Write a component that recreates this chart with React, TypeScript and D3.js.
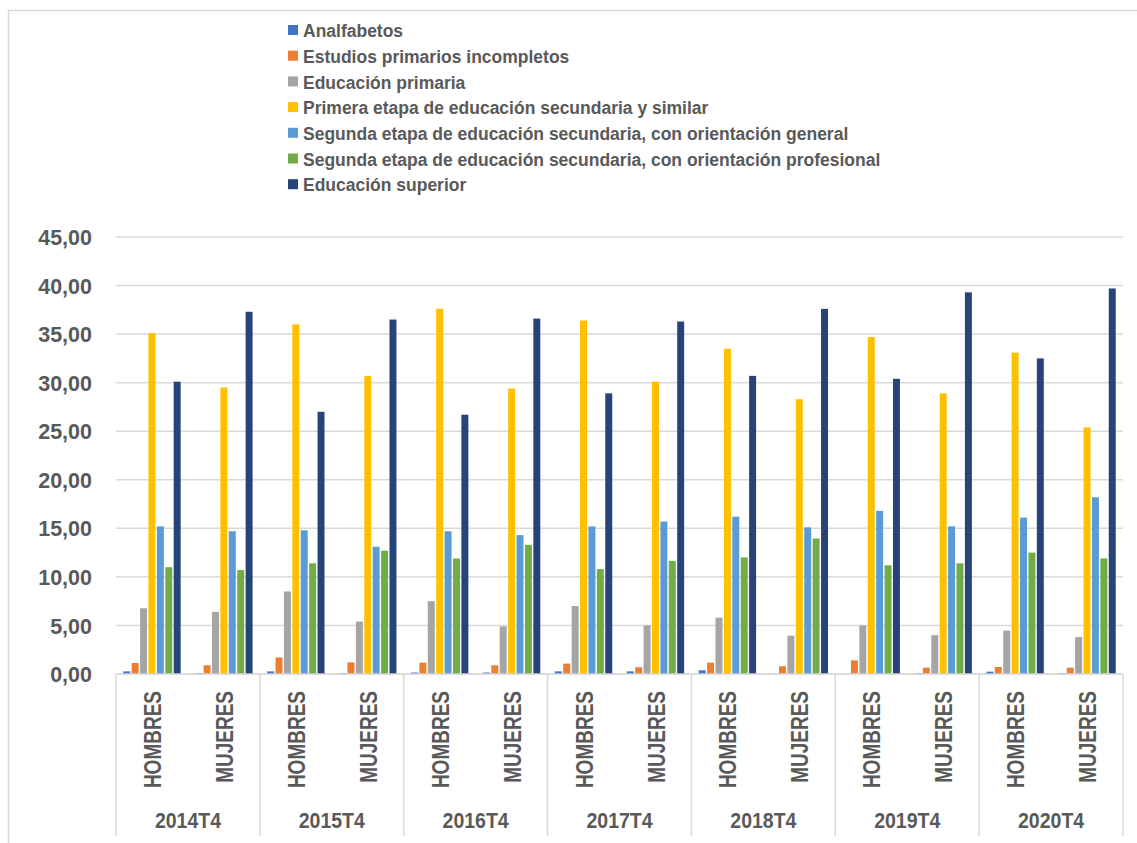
import * as d3 from 'd3';
import React, { useEffect, useRef } from 'react';

// years (outer category level) and sexes (inner level)
const years = ['2014T4', '2015T4', '2016T4', '2017T4', '2018T4', '2019T4', '2020T4'];
const sexes = ['HOMBRES', 'MUJERES'];

const seriesNames = [
  'Analfabetos',
  'Estudios primarios incompletos',
  'Educación primaria',
  'Primera etapa de educación secundaria y similar',
  'Segunda etapa de educación secundaria, con orientación general',
  'Segunda etapa de educación secundaria, con orientación profesional',
  'Educación superior',
];

// one value per category, order: 2014 H, 2014 M, 2015 H, 2015 M, ...
const analfabetos = [0.27, 0.1, 0.27, 0.1, 0.15, 0.15, 0.27, 0.27, 0.38, 0.02, 0.0, 0.1, 0.24, 0.1];
const primariosIncompletos = [1.13, 0.9, 1.7, 1.2, 1.17, 0.9, 1.07, 0.7, 1.17, 0.8, 1.4, 0.65, 0.72, 0.65];
const primaria = [6.77, 6.4, 8.5, 5.4, 7.5, 4.9, 7.0, 5.0, 5.8, 3.95, 5.0, 4.0, 4.47, 3.8];
const primeraEtapa = [35.1, 29.5, 36.0, 30.7, 37.6, 29.4, 36.4, 30.1, 33.5, 28.3, 34.7, 28.9, 33.1, 25.4];
const segundaGeneral = [15.2, 14.7, 14.8, 13.1, 14.7, 14.3, 15.2, 15.7, 16.2, 15.1, 16.8, 15.2, 16.1, 18.2];
const segundaProfesional = [11.0, 10.7, 11.4, 12.7, 11.9, 13.3, 10.8, 11.65, 12.0, 13.95, 11.2, 11.4, 12.5, 11.9];
const superior = [30.1, 37.3, 27.0, 36.5, 26.7, 36.6, 28.9, 36.3, 30.7, 37.6, 30.4, 39.3, 32.5, 39.7];

const seriesValues = [analfabetos, primariosIncompletos, primaria, primeraEtapa, segundaGeneral, segundaProfesional, superior];
const colors = ['#4472C4', '#ED7D31', '#A5A5A5', '#FFC000', '#5B9BD5', '#70AD47', '#264478'];
const yTicks = [0, 5, 10, 15, 20, 25, 30, 35, 40, 45];

const FONT = '"Liberation Sans", Arial, sans-serif';
const TEXT = '#595959';
const GRID = '#d9d9d9';

const App = () => {
  const ref = useRef<SVGSVGElement>(null);

  useEffect(() => {
    const svg = d3.select(ref.current);
    svg.selectAll('*').remove();

    const left = 116, right = 1123, top = 237, bottom = 674;

    // chart border (left and top edges visible)
    svg.append('path')
      .attr('d', 'M8.5,843V10.5H1137')
      .attr('fill', 'none')
      .attr('stroke', GRID)
      .attr('stroke-width', 1.5);

    const categories = years.flatMap(y => sexes.map(s => y + '|' + s));

    const x = d3.scaleBand().domain(categories).range([left, right]).padding(0);
    const xYear = d3.scaleBand().domain(years).range([left, right]).padding(0);
    const xSeries = d3.scaleBand()
      .domain(seriesNames)
      .range([0, x.bandwidth()])
      .paddingInner(0.17)
      .paddingOuter(0.865);
    const y = d3.scaleLinear().domain([0, 45]).range([bottom, top]);

    // gridlines
    svg.append('g')
      .selectAll('line')
      .data(yTicks)
      .enter().append('line')
      .attr('x1', left)
      .attr('x2', right)
      .attr('y1', d => y(d))
      .attr('y2', d => y(d))
      .attr('stroke', GRID)
      .attr('stroke-width', 1.5);

    // y tick labels
    svg.append('g')
      .selectAll('text')
      .data(yTicks)
      .enter().append('text')
      .attr('transform', d => `translate(92,${y(d)}) scale(1,1.05)`)
      .attr('dy', '0.36em')
      .attr('text-anchor', 'end')
      .attr('font-family', FONT)
      .attr('font-weight', 'bold')
      .attr('font-size', 21.5)
      .attr('fill', TEXT)
      .text(d => d3.format('.2f')(d).replace('.', ','));

    // bars
    seriesValues.forEach((vals, si) => {
      svg.append('g')
        .selectAll('rect')
        .data(vals)
        .enter().append('rect')
        .attr('x', (d, i) => (x(categories[i]) as number) + (xSeries(seriesNames[si]) as number))
        .attr('y', d => y(d))
        .attr('width', xSeries.bandwidth())
        .attr('height', d => bottom - y(d))
        .attr('fill', colors[si]);
    });

    // category axis: baseline + year separators
    svg.append('line')
      .attr('x1', left).attr('x2', right)
      .attr('y1', bottom).attr('y2', bottom)
      .attr('stroke', GRID).attr('stroke-width', 1.5);

    svg.append('g')
      .selectAll('line')
      .data(d3.range(years.length + 1))
      .enter().append('line')
      .attr('x1', i => left + i * xYear.step())
      .attr('x2', i => left + i * xYear.step())
      .attr('y1', bottom)
      .attr('y2', 836)
      .attr('stroke', GRID)
      .attr('stroke-width', 1.5);

    // sex labels (rotated, stretched a bit to look like the condensed original)
    svg.append('g')
      .selectAll('text')
      .data(categories)
      .enter().append('text')
      .attr('transform', d => `translate(${(x(d) as number) + x.bandwidth() / 2 + 0.5},691) rotate(-90) scale(1,1.25)`)
      .attr('dy', '0.36em')
      .attr('text-anchor', 'end')
      .attr('font-family', FONT)
      .attr('font-weight', 'bold')
      .attr('font-size', 19)
      .attr('fill', TEXT)
      .text(d => d.split('|')[1]);

    // year labels
    svg.append('g')
      .selectAll('text')
      .data(years)
      .enter().append('text')
      .attr('transform', d => `translate(${(xYear(d) as number) + xYear.bandwidth() / 2},828) scale(1,1.15)`)
      .attr('text-anchor', 'middle')
      .attr('font-family', FONT)
      .attr('font-weight', 'bold')
      .attr('font-size', 19.5)
      .attr('fill', TEXT)
      .text(d => d);

    // legend
    const legend = svg.append('g')
      .selectAll('g')
      .data(seriesNames)
      .enter().append('g')
      .attr('transform', (d, i) => `translate(288,${30 + i * 25.7})`);

    legend.append('rect')
      .attr('x', 0)
      .attr('y', -5)
      .attr('width', 10)
      .attr('height', 10)
      .attr('fill', (d, i) => colors[i]);

    legend.append('text')
      .attr('x', 15)
      .attr('dy', '0.38em')
      .attr('transform', 'scale(1,1.08)')
      .attr('font-family', FONT)
      .attr('font-weight', 'bold')
      .attr('font-size', 17.5)
      .attr('fill', TEXT)
      .text(d => d);
  }, []);

  return (
    <svg
      ref={ref}
      width={1137}
      height={843}
      style={{ position: 'absolute', left: 0, top: 0, background: '#fff' }}
    />
  );
};

export default App;
